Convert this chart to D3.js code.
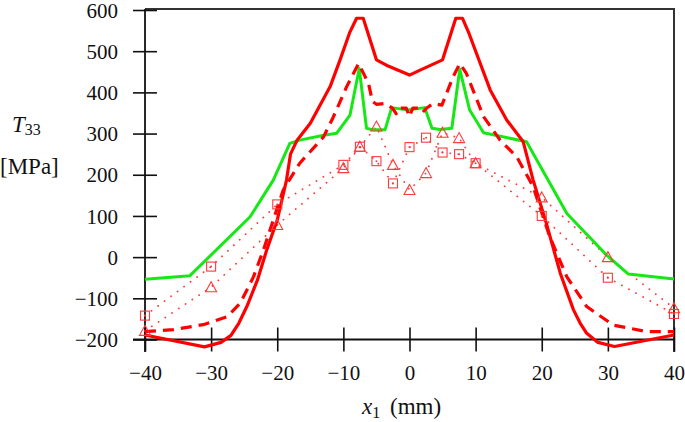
<!DOCTYPE html>
<html>
<head>
<meta charset="utf-8">
<script src="https://cdn.jsdelivr.net/npm/d3@7"></script>
<style>
  html, body { margin: 0; padding: 0; background: #fff; }
  svg { display: block; }
  text { font-family: "Liberation Serif", "DejaVu Serif", serif; fill: #111; }
</style>
</head>
<body>
<svg id="chart" width="685" height="422"></svg>
<script>
// ---------- data ----------
const xTicks = [-40, -30, -20, -10, 0, 10, 20, 30, 40];
const yTicks = [-200, -100, 0, 100, 200, 300, 400, 500, 600];

const redSolidX = [-40, -31, -28.5, -27, -25.8, -24.6, -23, -21.6, -20, -18.6, -18, -17, -15, -12, -10.5, -9, -8, -7, -5, -3.5, 0, 1.6, 5, 7, 8, 9, 12.2, 14.7, 17.2, 18.7, 20.7, 22.8, 24.8, 25.8, 26.8, 28.5, 31, 40];
const redSolidY = [-189, -218, -207, -190, -160, -120, -56, 17, 90, 187, 250, 284, 325, 414, 479, 547, 580, 580, 479, 466, 442, 454, 479, 580, 580, 543, 406, 333, 280, 187, 82, -39, -128, -160, -185, -207, -217, -189];

const redDashX = [-40, -35.7, -31.2, -27.6, -25.6, -23.6, -22.1, -20.6, -19.1, -16.6, -13, -11.5, -9.5, -7.7, -6.2, -5.6, -5, -3.7, -2.6, -2.0, -1.5, -0.5, 0, 0.5, 1.5, 2.0, 2.6, 3.6, 4.9, 6.6, 7.6, 8.6, 11.2, 13.7, 16.2, 18.7, 21.2, 23.8, 26.8, 30.8, 35.9, 40];
const redDashY = [-181, -176, -164, -145, -112, -48, 17, 90, 163, 228, 292, 341, 414, 470, 422, 378, 371, 373, 362, 348, 362, 362, 341, 362, 362, 352, 362, 373, 369, 438, 470, 446, 341, 284, 244, 171, 50, -48, -120, -165, -181, -181];

const greenX = [-40, -33.2, -24.1, -20.6, -18.1, -16.6, -13, -11, -9, -7.6, -6.5, -5.5, -3.7, -2.7, -0.2, 2.3, 3.4, 4.6, 6.4, 7.6, 9.1, 11.2, 17.7, 23.8, 29.8, 33.1, 40];
const greenY = [-54, -45, 98, 187, 276, 284, 296, 301, 345, 458, 313, 309, 309, 363, 357, 363, 313, 310, 313, 456, 357, 302, 280, 106, 5, -41, -53];

const markX = [-40, -30, -20, -10, -7.5, -5, -2.5, 0, 2.5, 5, 7.5, 10, 20, 30, 40];
const squareY = [-142, -23, 128, 224, 268, 233, 179, 267, 290, 254, 250, 228, 100, -50, -138];
const triangleY = [-179, -73, 78, 216, 268, 317, 224, 163, 204, 302, 289, 228, 145, 0, -124];

// ---------- layout ----------
const svg = d3.select("#chart");
const x = d3.scaleLinear().domain([-40, 40]).range([145, 674]);
const y = d3.scaleLinear().domain([-200, 600]).range([339.5, 10]);

const RED = "#ff0000", GREEN = "#16e816", MARK = "#ff3a3a";

// frame (top & right)
svg.append("line").attr("x1", x(-40)).attr("x2", x(40) + 1).attr("y1", 9).attr("y2", 9)
  .attr("stroke", "#333").attr("stroke-width", 2);
svg.append("line").attr("x1", x(40)).attr("x2", x(40)).attr("y1", 9).attr("y2", 352)
  .attr("stroke", "#333").attr("stroke-width", 2);

// axes
const gx = svg.append("g").attr("transform", `translate(0,${y(-200)})`)
  .call(d3.axisBottom(x).tickValues(xTicks).tickSizeOuter(0).tickSize(12)
    .tickFormat(d => d < 0 ? "\u2212" + Math.abs(d) : d));
gx.select(".domain").remove();
gx.append("line").attr("x1", 133).attr("x2", x(40)).attr("y1", 0).attr("y2", 0)
  .attr("stroke", "#111").attr("stroke-width", 1.8);
gx.selectAll(".tick line").attr("y1", -12).attr("y2", 12).attr("stroke", "#111").attr("stroke-width", 1.6);
gx.selectAll(".tick text").attr("y", 26).attr("dy", "0.71em").attr("font-size", 21)
  .style("font-family", "'Liberation Serif', serif").attr("fill", "#111");

const gy = svg.append("g").attr("transform", `translate(${x(-40)},0)`)
  .call(d3.axisLeft(y).tickValues(yTicks).tickSizeOuter(0).tickSize(12)
    .tickFormat(d => d < 0 ? "\u2212" + Math.abs(d) : d));
gy.select(".domain").remove();
gy.append("line").attr("x1", 0).attr("x2", 0).attr("y1", 9).attr("y2", 352)
  .attr("stroke", "#111").attr("stroke-width", 1.8);
gy.selectAll(".tick line").attr("x1", -12).attr("x2", 12).attr("stroke", "#111").attr("stroke-width", 1.6);
gy.selectAll(".tick text").attr("x", -27).attr("dy", "0.34em").attr("font-size", 21)
  .style("font-family", "'Liberation Serif', serif").attr("fill", "#111");

// axis titles
const yl = svg.append("text").attr("x", 12).attr("y", 132).attr("font-size", 23);
yl.append("tspan").attr("font-style", "italic").text("T");
yl.append("tspan").attr("font-size", 16).attr("dy", 3).text("33");
svg.append("text").attr("x", 0).attr("y", 174).attr("font-size", 23).text("[MPa]");

const xl = svg.append("text").attr("x", 362).attr("y", 414).attr("font-size", 23);
xl.append("tspan").attr("font-style", "italic").text("x");
xl.append("tspan").attr("font-size", 16).attr("dy", 4).text("1");
xl.append("tspan").attr("dy", -4).attr("x", 390).text("(mm)");

// lines
const line = d3.line().x(d => x(d[0])).y(d => y(d[1]));
const zip = (a, b) => a.map((v, i) => [v, b[i]]);

// dotted marker series
svg.append("path").datum(zip(markX, squareY)).attr("d", line)
  .attr("fill", "none").attr("stroke", MARK).attr("stroke-width", 1.8)
  .attr("stroke-dasharray", "0.1,8").attr("stroke-linecap", "round");
svg.append("path").datum(zip(markX, triangleY)).attr("d", line)
  .attr("fill", "none").attr("stroke", MARK).attr("stroke-width", 1.8)
  .attr("stroke-dasharray", "0.1,8").attr("stroke-linecap", "round");

// green
svg.append("path").datum(zip(greenX, greenY)).attr("d", line)
  .attr("fill", "none").attr("stroke", GREEN).attr("stroke-width", 3)
  .attr("stroke-linejoin", "round");

// red dashed
svg.append("path").datum(zip(redDashX, redDashY)).attr("d", line)
  .attr("fill", "none").attr("stroke", RED).attr("stroke-width", 3.2)
  .attr("stroke-dasharray", "11,7").attr("stroke-linejoin", "round");

// red solid
svg.append("path").datum(zip(redSolidX, redSolidY)).attr("d", line)
  .attr("fill", "none").attr("stroke", RED).attr("stroke-width", 3.2)
  .attr("stroke-linejoin", "round");

// markers
const sq = svg.append("g").selectAll("g").data(zip(markX, squareY)).join("g")
  .attr("transform", d => `translate(${x(d[0])},${y(d[1])})`);
sq.append("rect").attr("x", -4.5).attr("y", -4.5).attr("width", 9).attr("height", 9)
  .attr("fill", "none").attr("stroke", MARK).attr("stroke-width", 1.1);
sq.append("circle").attr("r", 1).attr("fill", MARK);

svg.append("g").selectAll("path").data(zip(markX, triangleY)).join("path")
  .attr("transform", d => `translate(${x(d[0])},${y(d[1])})`)
  .attr("d", "M0,-5.5L5.5,4.5L-5.5,4.5Z")
  .attr("fill", "none").attr("stroke", MARK).attr("stroke-width", 1.1);
</script>
</body>
</html>
